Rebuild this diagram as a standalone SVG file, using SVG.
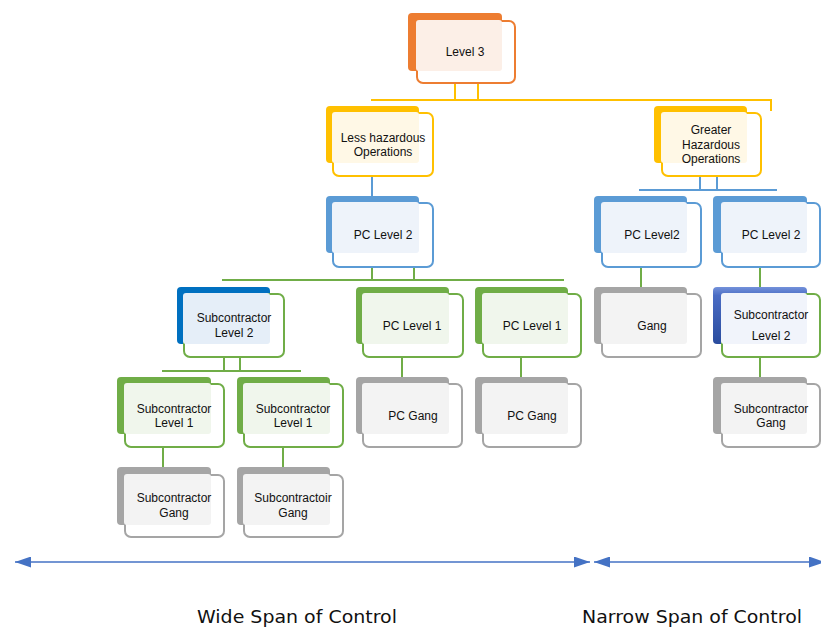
<svg xmlns="http://www.w3.org/2000/svg" width="821" height="629" viewBox="0 0 821 629">
  <defs>
    <linearGradient id="gradBlue3d" x1="0" y1="0" x2="0" y2="1">
      <stop offset="0" stop-color="#7391DA"/>
      <stop offset="0.15" stop-color="#4A6CC4"/>
      <stop offset="1" stop-color="#2A4C9E"/>
    </linearGradient>
    <marker id="arrowHead" viewBox="0 0 16 11" refX="16" refY="5.5" markerWidth="16" markerHeight="11" markerUnits="userSpaceOnUse" orient="auto-start-reverse">
      <path d="M0,0 L16,5.5 L0,11 z" fill="#4472C4"/>
    </marker>
  </defs>
  <style>
    .back { stroke: none; }
    .front { fill: #FFFFFF; stroke-width: 2; }
    .tint { stroke: none; }
    .lbl { font-family: "Liberation Sans", Arial, sans-serif; font-size: 12px; fill: #111111; text-anchor: middle; }
    .span { font-family: "DejaVu Sans", Verdana, sans-serif; font-size: 17.5px; fill: #111111; text-anchor: middle; }
    .orange .back { fill: #ED7D31; } .orange .front { stroke: #ED7D31; } .orange .tint { fill: #FCEFE7; }
    .yellow .back { fill: #FFC000; } .yellow .front { stroke: #FFC000; } .yellow .tint { fill: #FFF8E6; }
    .blue .back { fill: #5B9BD5; } .blue .front { stroke: #5B9BD5; } .blue .tint { fill: #EEF3FA; }
    .green .back { fill: #70AD47; } .green .front { stroke: #70AD47; } .green .tint { fill: #F0F6EC; }
    .gray .back { fill: #A5A5A5; } .gray .front { stroke: #A5A5A5; } .gray .tint { fill: #F3F3F3; }
    .subDark .back { fill: #0070C0; } .subDark .front { stroke: #70AD47; } .subDark .tint { fill: #E5EEF8; }
    .sub3d .back { fill: url(#gradBlue3d); } .sub3d .front { stroke: #70AD47; } .sub3d .tint { fill: #F1F4FB; }
    .link { fill: none; stroke-width: 2; }
    .lk-yellow { stroke: #FFC000; }
    .lk-blue { stroke: #5B9BD5; }
    .lk-green { stroke: #70AD47; }
    .span-arrow { stroke: #4472C4; stroke-width: 1.6; fill: none; }
  </style>

  <!-- connectors -->
  <g id="connectors">
    <path class="link lk-yellow" d="M455 75 V100 M478 75 V100 M371 100 H771 V111"/>
    <path class="link lk-blue" d="M372 176 V196 M700 176 V190 M717 176 V190 M639 190 H777"/>
    <path class="link lk-green" d="M372 260 V280 M414 260 V280 M222 280 H564"/>
    <path class="link lk-green" d="M224 350 V371 M240 350 V371 M162 371 H301"/>
    <path class="link lk-green" d="M402 350 V377 M521 350 V377"/>
    <path class="link lk-green" d="M163 440 V467 M283 440 V467"/>
    <path class="link lk-green" d="M641 260 V287 M760 260 V287 M760 350 V377"/>
  </g>

  <!-- nodes -->
  <g id="level3" class="orange">
    <rect class="back" x="408" y="13" width="94" height="58" rx="4"/>
    <rect class="front" x="417" y="21" width="98" height="62" rx="6"/>
    <rect class="tint" x="416" y="20" width="86" height="51" rx="3"/>
    <text class="lbl" x="465" y="56">Level 3</text>
  </g>

  <g id="lessHazardous" class="yellow">
    <rect class="back" x="326" y="106" width="93" height="57" rx="4"/>
    <rect class="front" x="333" y="113" width="100" height="63" rx="6"/>
    <rect class="tint" x="332" y="112" width="87" height="51" rx="3"/>
    <text class="lbl" x="383" y="142">Less hazardous</text>
    <text class="lbl" x="383" y="156">Operations</text>
  </g>

  <g id="greaterHazardous" class="yellow">
    <rect class="back" x="654" y="106" width="93" height="57" rx="4"/>
    <rect class="front" x="662" y="113" width="99" height="63" rx="6"/>
    <rect class="tint" x="661" y="112" width="86" height="51" rx="3"/>
    <text class="lbl" x="711" y="134">Greater</text>
    <text class="lbl" x="711" y="149">Hazardous</text>
    <text class="lbl" x="711" y="163">Operations</text>
  </g>

  <g id="pcLevel2Wide" class="blue">
    <rect class="back" x="326" y="196" width="93" height="57" rx="4"/>
    <rect class="front" x="333" y="203" width="100" height="64" rx="6"/>
    <rect class="tint" x="332" y="202" width="87" height="51" rx="3"/>
    <text class="lbl" x="383" y="239">PC Level 2</text>
  </g>

  <g id="pcLevel2NarrowA" class="blue">
    <rect class="back" x="594" y="196" width="93" height="57" rx="4"/>
    <rect class="front" x="602" y="203" width="99" height="64" rx="6"/>
    <rect class="tint" x="601" y="202" width="86" height="51" rx="3"/>
    <text class="lbl" x="652" y="239">PC Level2</text>
  </g>

  <g id="pcLevel2NarrowB" class="blue">
    <rect class="back" x="713" y="196" width="94" height="57" rx="4"/>
    <rect class="front" x="722" y="203" width="98" height="64" rx="6"/>
    <rect class="tint" x="721" y="202" width="86" height="51" rx="3"/>
    <text class="lbl" x="771" y="239">PC Level 2</text>
  </g>

  <g id="subcontractorLevel2Wide" class="subDark">
    <rect class="back" x="177" y="287" width="93" height="57" rx="4"/>
    <rect class="front" x="184" y="294" width="100" height="63" rx="6"/>
    <rect class="tint" x="183" y="293" width="87" height="51" rx="3"/>
    <text class="lbl" x="234" y="322">Subcontractor</text>
    <text class="lbl" x="234" y="337">Level 2</text>
  </g>

  <g id="pcLevel1A" class="green">
    <rect class="back" x="356" y="287" width="93" height="57" rx="4"/>
    <rect class="front" x="363" y="294" width="100" height="63" rx="6"/>
    <rect class="tint" x="362" y="293" width="87" height="51" rx="3"/>
    <text class="lbl" x="412" y="330">PC Level 1</text>
  </g>

  <g id="pcLevel1B" class="green">
    <rect class="back" x="475" y="287" width="93" height="57" rx="4"/>
    <rect class="front" x="483" y="294" width="98" height="63" rx="6"/>
    <rect class="tint" x="482" y="293" width="86" height="51" rx="3"/>
    <text class="lbl" x="532" y="330">PC Level 1</text>
  </g>

  <g id="gangNarrow" class="gray">
    <rect class="back" x="594" y="287" width="93" height="57" rx="4"/>
    <rect class="front" x="602" y="294" width="99" height="63" rx="6"/>
    <rect class="tint" x="601" y="293" width="86" height="51" rx="3"/>
    <text class="lbl" x="652" y="330">Gang</text>
  </g>

  <g id="subcontractorLevel2Narrow" class="sub3d">
    <rect class="back" x="713" y="287" width="94" height="57" rx="4"/>
    <rect class="front" x="722" y="294" width="98" height="63" rx="6"/>
    <rect class="tint" x="721" y="293" width="86" height="51" rx="3"/>
    <text class="lbl" x="771" y="319">Subcontractor</text>
    <text class="lbl" x="771" y="340">Level 2</text>
  </g>

  <g id="subcontractorLevel1A" class="green">
    <rect class="back" x="117" y="377" width="94" height="57" rx="4"/>
    <rect class="front" x="125" y="384" width="99" height="63" rx="6"/>
    <rect class="tint" x="124" y="383" width="87" height="51" rx="3"/>
    <text class="lbl" x="174" y="413">Subcontractor</text>
    <text class="lbl" x="174" y="427">Level 1</text>
  </g>

  <g id="subcontractorLevel1B" class="green">
    <rect class="back" x="237" y="377" width="93" height="57" rx="4"/>
    <rect class="front" x="244" y="384" width="99" height="63" rx="6"/>
    <rect class="tint" x="243" y="383" width="87" height="51" rx="3"/>
    <text class="lbl" x="293" y="413">Subcontractor</text>
    <text class="lbl" x="293" y="427">Level 1</text>
  </g>

  <g id="pcGangA" class="gray">
    <rect class="back" x="356" y="377" width="93" height="57" rx="4"/>
    <rect class="front" x="363" y="384" width="99" height="63" rx="6"/>
    <rect class="tint" x="362" y="383" width="87" height="51" rx="3"/>
    <text class="lbl" x="413" y="420">PC Gang</text>
  </g>

  <g id="pcGangB" class="gray">
    <rect class="back" x="475" y="377" width="93" height="57" rx="4"/>
    <rect class="front" x="483" y="384" width="98" height="63" rx="6"/>
    <rect class="tint" x="482" y="383" width="86" height="51" rx="3"/>
    <text class="lbl" x="532" y="420">PC Gang</text>
  </g>

  <g id="subcontractorGangNarrow" class="gray">
    <rect class="back" x="713" y="377" width="94" height="57" rx="4"/>
    <rect class="front" x="722" y="384" width="98" height="63" rx="6"/>
    <rect class="tint" x="721" y="383" width="86" height="51" rx="3"/>
    <text class="lbl" x="771" y="413">Subcontractor</text>
    <text class="lbl" x="771" y="427">Gang</text>
  </g>

  <g id="subcontractorGangA" class="gray">
    <rect class="back" x="117" y="467" width="94" height="58" rx="4"/>
    <rect class="front" x="125" y="475" width="99" height="62" rx="6"/>
    <rect class="tint" x="124" y="474" width="87" height="51" rx="3"/>
    <text class="lbl" x="174" y="502">Subcontractor</text>
    <text class="lbl" x="174" y="517">Gang</text>
  </g>

  <g id="subcontractorGangB" class="gray">
    <rect class="back" x="237" y="467" width="93" height="58" rx="4"/>
    <rect class="front" x="244" y="475" width="99" height="62" rx="6"/>
    <rect class="tint" x="243" y="474" width="87" height="51" rx="3"/>
    <text class="lbl" x="293" y="502">Subcontractoir</text>
    <text class="lbl" x="293" y="517">Gang</text>
  </g>

  <!-- span-of-control scale -->
  <g id="spanScale">
    <line class="span-arrow" x1="15" y1="562" x2="590" y2="562" marker-start="url(#arrowHead)" marker-end="url(#arrowHead)"/>
    <line class="span-arrow" x1="594" y1="562" x2="825" y2="562" marker-start="url(#arrowHead)" marker-end="url(#arrowHead)"/>
    <text class="span" x="297" y="623" textLength="200" lengthAdjust="spacingAndGlyphs">Wide Span of Control</text>
    <text class="span" x="692" y="623" textLength="220" lengthAdjust="spacingAndGlyphs">Narrow Span of Control</text>
  </g>
</svg>
